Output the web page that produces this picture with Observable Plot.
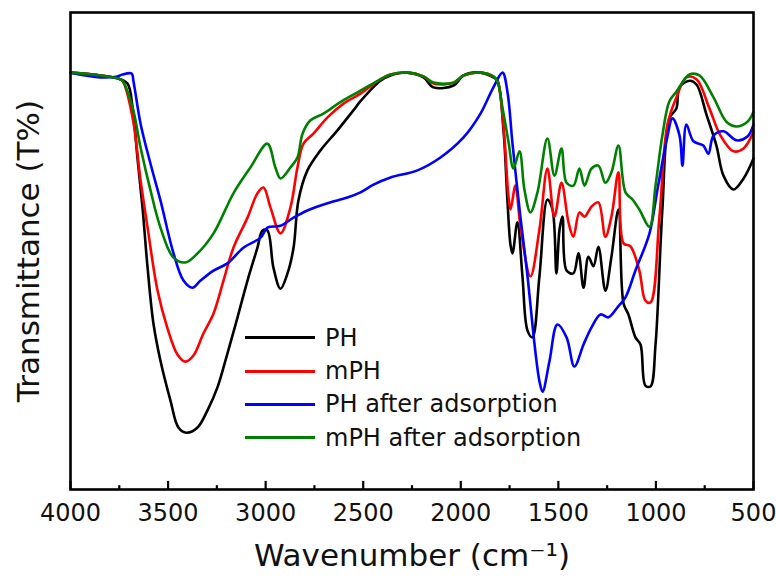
<!DOCTYPE html>
<html>
<head>
<meta charset="utf-8">
<script src="https://cdn.jsdelivr.net/npm/d3@7"></script>
<script src="https://cdn.jsdelivr.net/npm/@observablehq/plot@0.6"></script>
<style>
  body { margin: 0; background: #fff; }
  #wrap { position: relative; width: 776px; height: 584px; font-family: "DejaVu Sans", sans-serif; }
  #legend { position: absolute; left: 245px; top: 321px; }
  .row { display: flex; align-items: center; height: 33.4px; font-size: 24px; color: #111; }
  .sw { width: 70px; height: 3px; margin-right: 10px; }
</style>
</head>
<body>
<div id="wrap"><div id="legend"></div></div>
<script>
// Series names and colours
const seriesNames = ["PH", "mPH", "PH after adsorption", "mPH after adsorption"];
const seriesColors = ["#000000", "#ff0000", "#0000ff", "#008000"];

// Axis ticks (wavenumber, cm^-1)
const majorTicks = [4000, 3500, 3000, 2500, 2000, 1500, 1000, 500];
const minorTicks = [3750, 3250, 2750, 2250, 1750, 1250, 750];

// [wavenumber, transmittance (relative %)]
const PH = [
  [4000,87.4],[3846,86.8],[3759,86.2],[3708,85.1],[3682,80.1],[3657,69.6],[3631,59.1],[3605,46.5],
  [3575,34.8],[3539,27.0],[3488,18.7],[3447,13.0],[3406,11.9],[3349,13.0],[3298,16.6],[3247,21.4],
  [3196,28.5],[3144,36.1],[3093,43.8],[3042,50.7],[3016,54.3],[2991,54.3],[2960,46.5],[2924,42.1],
  [2888,45.3],[2857,50.7],[2832,60.6],[2786,66.9],[2719,71.1],[2632,75.3],[2550,79.5],[2514,81.4],
  [2412,85.7],[2360,86.8],[2273,87.4],[2191,86.4],[2140,84.3],[2037,84.7],[1986,86.8],[1899,87.4],
  [1833,86.4],[1812,85.7],[1781,75.3],[1761,60.6],[1745,51.2],[1735,49.5],[1710,56.0],[1684,44.7],
  [1658,33.3],[1633,31.9],[1597,44.7],[1556,60.8],[1530,58.7],[1510,45.3],[1494,54.5],[1479,57.2],
  [1458,45.9],[1423,45.3],[1397,49.5],[1371,42.3],[1346,48.8],[1320,46.8],[1295,50.9],[1259,41.7],
  [1228,48.8],[1192,58.7],[1166,39.0],[1141,36.7],[1105,31.9],[1079,30.4],[1054,21.8],[1028,21.6],
  [1002,30.4],[967,58.7],[931,77.8],[895,79.9],[879,84.3],[828,85.7],[792,84.9],[741,78.6],
  [690,72.1],[654,65.8],[603,62.9],[551,65.2],[500,69.4]
];
const mPH = [
  [4000,87.4],[3846,86.8],[3759,86.2],[3734,85.7],[3682,78.0],[3641,64.8],[3605,54.9],[3554,41.7],
  [3503,33.8],[3452,28.3],[3411,26.8],[3370,28.1],[3319,32.7],[3267,36.9],[3216,43.8],[3165,50.7],
  [3093,57.0],[3042,62.1],[3011,63.3],[2975,59.1],[2924,53.7],[2873,59.1],[2837,67.5],[2806,72.5],
  [2755,74.6],[2683,78.0],[2601,80.9],[2514,83.0],[2412,86.0],[2360,87.0],[2273,87.4],[2191,86.6],
  [2140,85.1],[2037,85.3],[1986,86.8],[1899,87.4],[1833,86.6],[1812,85.7],[1781,76.0],[1756,61.6],
  [1745,58.7],[1720,63.7],[1694,55.1],[1643,44.7],[1597,54.5],[1556,67.3],[1520,57.2],[1484,64.3],
  [1448,56.0],[1423,53.0],[1392,58.1],[1366,57.2],[1330,59.3],[1295,60.2],[1259,53.0],[1228,57.2],
  [1192,66.5],[1166,51.6],[1131,51.0],[1085,45.9],[1054,39.6],[1028,39.2],[982,57.2],[941,76.5],
  [895,82.2],[844,86.4],[792,86.0],[726,79.9],[669,74.2],[603,70.9],[551,71.5],[500,75.0]
];
const PHads = [
  [4000,87.4],[3846,86.4],[3759,86.6],[3734,87.0],[3687,87.2],[3677,85.5],[3641,76.7],[3590,68.3],
  [3539,60.6],[3472,49.5],[3421,43.8],[3375,42.3],[3334,43.8],[3267,45.9],[3196,47.4],[3114,50.7],
  [3026,52.8],[2991,54.9],[2924,55.3],[2857,57.0],[2786,58.5],[2683,60.0],[2581,61.2],[2514,62.3],
  [2447,63.9],[2360,65.4],[2222,66.9],[2104,69.6],[1986,73.8],[1899,78.8],[1833,84.3],[1786,87.4],
  [1761,83.4],[1735,72.5],[1694,57.0],[1658,44.7],[1622,30.4],[1597,22.7],[1581,20.5],[1546,26.8],
  [1505,34.6],[1458,31.9],[1418,25.8],[1371,30.4],[1330,34.0],[1284,36.7],[1243,36.1],[1197,38.2],
  [1156,40.3],[1105,45.9],[1033,53.7],[992,62.9],[946,73.0],[915,77.8],[879,74.2],[864,67.9],
  [844,76.5],[808,73.0],[757,72.1],[731,70.4],[705,74.2],[654,75.1],[587,73.2],[531,74.0],[500,76.5]
];
const mPHads = [
  [4000,87.4],[3846,86.8],[3759,86.2],[3734,85.7],[3682,80.1],[3641,71.7],[3590,62.7],[3539,54.9],
  [3472,48.6],[3411,47.6],[3349,49.5],[3267,53.7],[3165,62.1],[3078,67.5],[2991,72.5],[2950,67.5],
  [2924,65.2],[2873,67.5],[2837,69.6],[2811,74.6],[2770,77.4],[2704,78.8],[2617,81.2],[2514,83.6],
  [2412,86.0],[2360,87.0],[2273,87.4],[2191,86.6],[2140,85.3],[2037,85.3],[1986,86.8],[1899,87.4],
  [1833,86.6],[1812,85.5],[1786,80.0],[1756,73.0],[1730,67.3],[1699,70.9],[1674,62.9],[1643,58.1],
  [1607,62.3],[1556,73.6],[1520,65.8],[1484,71.5],[1458,64.3],[1423,63.7],[1392,67.3],[1366,63.7],
  [1330,67.3],[1295,67.9],[1259,64.3],[1228,66.5],[1192,72.1],[1156,62.3],[1120,60.8],[1085,58.7],
  [1033,55.1],[1002,63.7],[967,74.2],[931,81.4],[895,83.4],[828,87.0],[777,86.8],[705,82.2],
  [639,77.1],[587,76.1],[531,77.1],[500,79.2]
];

const allSeries = [PH, mPH, PHads, mPHads];
const rows = allSeries.flatMap((s, i) => s.map(([w, t]) => ({w, t, name: seriesNames[i]})));

const chart = Plot.plot({
  width: 776,
  height: 584,
  marginLeft: 70,
  marginRight: 23,
  marginTop: 12,
  marginBottom: 95,
  style: {fontFamily: "DejaVu Sans, sans-serif", background: "transparent", color: "#111"},
  x: {domain: [4000, 500]},
  y: {domain: [0, 100], axis: null},
  color: {domain: seriesNames, range: seriesColors},
  marks: [
    Plot.line(rows, {x: "w", y: "t", z: "name", stroke: "name", strokeWidth: 2.6, curve: "catmull-rom"}),
    Plot.frame({stroke: "#000", strokeWidth: 2.6}),
    Plot.ruleX(majorTicks, {x: d => d, y1: 0, y2: 1.7, stroke: "#000", strokeWidth: 2.2}),
    Plot.ruleX(minorTicks, {x: d => d, y1: 0, y2: 0.8, stroke: "#000", strokeWidth: 2.2}),
    Plot.axisX(majorTicks, {tickSize: 0, tickPadding: 14, fontSize: 24, label: null, tickFormat: d => String(d)}),
    Plot.text(["Wavenumber (cm⁻¹)"], {frameAnchor: "bottom", dy: 76, fontSize: 31, text: d => d, fill: "#111"}),
    Plot.text(["Transmittance (T%)"], {frameAnchor: "left", textAnchor: "middle", dx: -41, rotate: -90, fontSize: 31, text: d => d, fill: "#111"})
  ]
});
const wrap = document.getElementById("wrap");
wrap.insertBefore(chart, wrap.firstChild);

const legend = d3.select("#legend");
seriesNames.forEach((n, i) => {
  const r = legend.append("div").attr("class", "row");
  r.append("div").attr("class", "sw").style("background", seriesColors[i]);
  r.append("span").text(n);
});
</script>
</body>
</html>
